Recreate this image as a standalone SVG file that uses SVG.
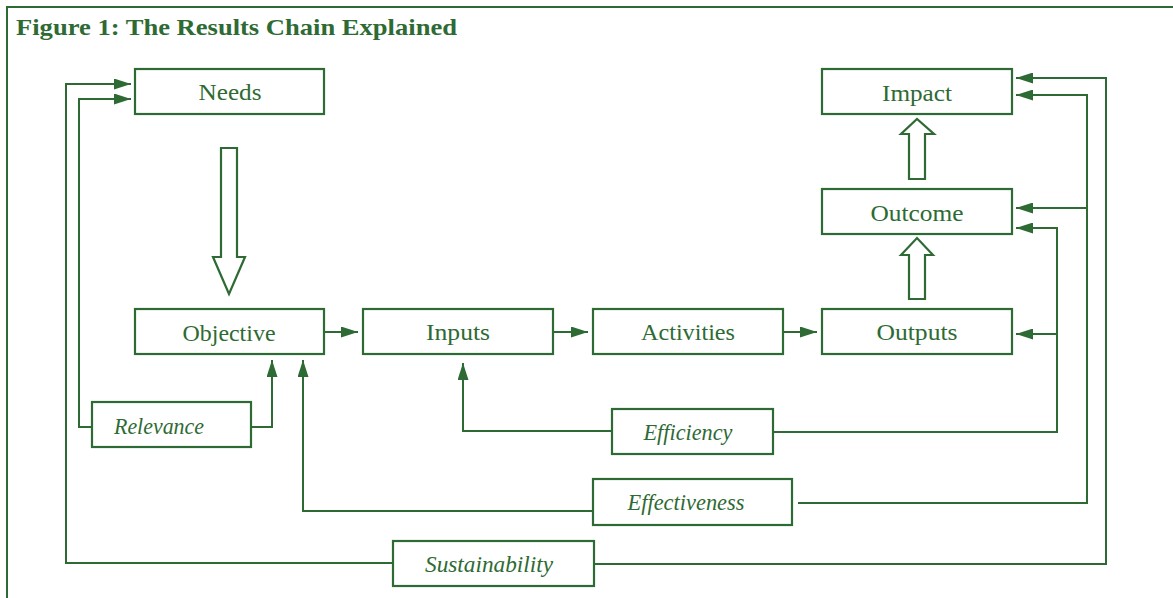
<svg xmlns="http://www.w3.org/2000/svg" width="1173" height="598" viewBox="0 0 1173 598">
<style>
.box{fill:#fff;stroke:#2e6a33;stroke-width:2.2}
.blk{fill:#fff;stroke:#2e6a33;stroke-width:2.2;stroke-linejoin:miter}
.ln{fill:none;stroke:#2e6a33;stroke-width:2}
.t{font-family:"Liberation Serif","Times New Roman",serif;font-size:23px;fill:#2e6a33;text-anchor:middle}
.i{font-style:italic}
.title{font-family:"Liberation Serif","Times New Roman",serif;font-size:24px;font-weight:bold;fill:#2e6a33}
</style>
<defs>
<marker id="ah" markerUnits="userSpaceOnUse" viewBox="0 0 17 11" refX="17" refY="5.5" markerWidth="17" markerHeight="11" orient="auto">
<path d="M0,0 L17,5.5 L0,11 z" fill="#2e6a33"/>
</marker>
</defs>
<rect width="1173" height="598" fill="#fff"/>
<path d="M7,598 V7 H1173" fill="none" stroke="#2e6a33" stroke-width="2"/>
<text class="title" x="16" y="35" textLength="441" lengthAdjust="spacingAndGlyphs">Figure 1: The Results Chain Explained</text>

<g id="connectors">
<path class="ln" d="M324,332 H358" marker-end="url(#ah)"/>
<path class="ln" d="M553,332 H588" marker-end="url(#ah)"/>
<path class="ln" d="M783,332 H817" marker-end="url(#ah)"/>
<path class="ln" d="M393,563 H66 V84 H131" marker-end="url(#ah)"/>
<path class="ln" d="M92,427 H79 V99 H131" marker-end="url(#ah)"/>
<path class="ln" d="M251,427 H272 V360" marker-end="url(#ah)"/>
<path class="ln" d="M593,511 H303 V360" marker-end="url(#ah)"/>
<path class="ln" d="M612,431 H463 V363" marker-end="url(#ah)"/>
<path class="ln" d="M773,432 H1057 V228 H1016" marker-end="url(#ah)"/>
<path class="ln" d="M1057,334 H1016" marker-end="url(#ah)"/>
<path class="ln" d="M798,503 H1087 V95 H1016" marker-end="url(#ah)"/>
<path class="ln" d="M1087,208 H1016" marker-end="url(#ah)"/>
<path class="ln" d="M594,564 H1106 V78 H1016" marker-end="url(#ah)"/>
<polygon class="blk" points="221,148 237,148 237,257 245,257 229,294 213,257 221,257"/>
<polygon class="blk" points="909,299 925,299 925,255 933,255 917,238 901,255 909,255"/>
<polygon class="blk" points="909,179 925,179 925,134 934,134 917,119 901,134 909,134"/>
</g>

<g id="needs"><rect class="box" x="135" y="69" width="189" height="45"/><text class="t" x="230" y="100" textLength="63" lengthAdjust="spacingAndGlyphs">Needs</text></g>
<g id="impact"><rect class="box" x="822" y="69" width="190" height="45"/><text class="t" x="917" y="101" textLength="70" lengthAdjust="spacingAndGlyphs">Impact</text></g>
<g id="outcome"><rect class="box" x="822" y="189" width="190" height="45"/><text class="t" x="917" y="221" textLength="93" lengthAdjust="spacingAndGlyphs">Outcome</text></g>
<g id="objective"><rect class="box" x="135" y="309" width="189" height="45"/><text class="t" x="229" y="341" textLength="93" lengthAdjust="spacingAndGlyphs">Objective</text></g>
<g id="inputs"><rect class="box" x="363" y="309" width="190" height="45"/><text class="t" x="458" y="340" textLength="64" lengthAdjust="spacingAndGlyphs">Inputs</text></g>
<g id="activities"><rect class="box" x="593" y="309" width="190" height="45"/><text class="t" x="688" y="340" textLength="94" lengthAdjust="spacingAndGlyphs">Activities</text></g>
<g id="outputs"><rect class="box" x="822" y="309" width="190" height="45"/><text class="t" x="917" y="340" textLength="81" lengthAdjust="spacingAndGlyphs">Outputs</text></g>
<g id="relevance"><rect class="box" x="92" y="402" width="159" height="45"/><text class="t i" x="159" y="434" textLength="90" lengthAdjust="spacingAndGlyphs">Relevance</text></g>
<g id="efficiency"><rect class="box" x="612" y="409" width="161" height="45"/><text class="t i" x="688" y="440" textLength="89" lengthAdjust="spacingAndGlyphs">Efficiency</text></g>
<g id="effectiveness"><rect class="box" x="593" y="479" width="199" height="46"/><text class="t i" x="686" y="510" textLength="117" lengthAdjust="spacingAndGlyphs">Effectiveness</text></g>
<g id="sustainability"><rect class="box" x="393" y="541" width="201" height="45"/><text class="t i" x="489" y="572" textLength="128" lengthAdjust="spacingAndGlyphs">Sustainability</text></g>
</svg>
